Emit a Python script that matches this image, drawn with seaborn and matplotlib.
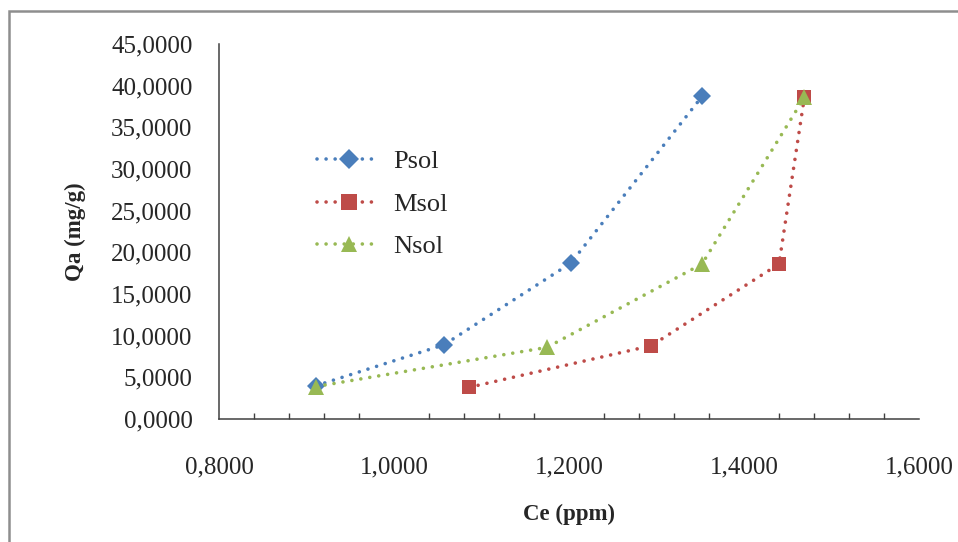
import numpy as np
import pandas as pd
import matplotlib
matplotlib.use("Agg")
import matplotlib.pyplot as plt
import seaborn as sns
from matplotlib.patches import Rectangle
from matplotlib.lines import Line2D
from matplotlib.ticker import FuncFormatter, MultipleLocator

# ---- data ----
series_names = ["Psol", "Msol", "Nsol"]
psol_x = [0.911, 1.057, 1.202, 1.352]
psol_y = [4.0, 8.9, 18.7, 38.7]
msol_x = [1.086, 1.294, 1.440, 1.469]
msol_y = [3.8, 8.8, 18.6, 38.6]
nsol_x = [0.911, 1.175, 1.352, 1.469]
nsol_y = [3.9, 8.6, 18.6, 38.6]
x_ticks = [0.8, 1.0, 1.2, 1.4, 1.6]
y_ticks = [0, 5, 10, 15, 20, 25, 30, 35, 40, 45]

colors = {"Psol": "#4A7EBB", "Msol": "#BE4B48", "Nsol": "#98B954"}
markers = {"Psol": "D", "Msol": "s", "Nsol": "^"}
msizes = {"Psol": 9.5, "Msol": 10.5, "Nsol": 11}

df = pd.concat([
    pd.DataFrame({"x": psol_x, "y": psol_y, "series": "Psol"}),
    pd.DataFrame({"x": msol_x, "y": msol_y, "series": "Msol"}),
    pd.DataFrame({"x": nsol_x, "y": nsol_y, "series": "Nsol"}),
], ignore_index=True)

sns.set_style("white")
plt.rcParams["font.family"] = ["Liberation Serif", "DejaVu Serif"]

W, H = 958, 542
fig = plt.figure(figsize=(W / 100, H / 100), dpi=100)
ax = fig.add_axes([219 / W, 1 - 419 / H, 700 / W, 375 / H])

# outer frame (left & top visible)
fig.add_artist(Rectangle((9 / W, -0.1), 1.2, 1 - 11 / H + 0.1, transform=fig.transFigure,
                         fill=False, edgecolor="#8E8E8E", linewidth=1.8, clip_on=False))

dot = (0, (0.01, 2.5))

for name in series_names:
    sub = df[df["series"] == name]
    sns.lineplot(data=sub, x="x", y="y", sort=False, estimator=None, ax=ax,
                 color=colors[name], linewidth=2.6, linestyle=dot,
                 dash_capstyle="round", marker=markers[name],
                 markersize=msizes[name], markeredgewidth=0, legend=False)

ax.set_xlim(0.8, 1.6)
ax.set_ylim(0, 45)
ax.set_xticks(x_ticks)
ax.set_yticks(y_ticks)
ax.xaxis.set_minor_locator(MultipleLocator(0.04))
fmt = FuncFormatter(lambda v, p: f"{v:.4f}".replace(".", ","))
ax.xaxis.set_major_formatter(fmt)
ax.yaxis.set_major_formatter(fmt)

for s in ["top", "right"]:
    ax.spines[s].set_visible(False)
for s in ["left", "bottom"]:
    ax.spines[s].set_color("#404040")
    ax.spines[s].set_linewidth(1.1)

ax.tick_params(axis="x", which="major", direction="in", length=5, width=1.1,
               color="#404040", pad=27, labelsize=18)
ax.tick_params(axis="x", which="minor", direction="in", length=4, width=1.0,
               color="#404040", bottom=True)
ax.tick_params(axis="y", which="major", direction="out", length=4, width=1.1,
               color="#404040", pad=15, labelsize=18)

ax.set_xlabel("Ce (ppm)", fontsize=16.5, fontweight="bold", labelpad=18)
ax.set_ylabel("Qa (mg/g)", fontsize=16.5, fontweight="bold", labelpad=18)
ax.grid(False)

leg_sizes = {"Psol": 10, "Msol": 11, "Nsol": 11.5}
handles = [Line2D([], [], color=colors[n], linestyle=dot, linewidth=2.6,
                  dash_capstyle="round", marker=markers[n], markersize=leg_sizes[n],
                  markeredgewidth=0) for n in series_names]
fig.legend(handles, series_names, loc="upper left",
           bbox_to_anchor=(317 / W, 1 - 150 / H), bbox_transform=fig.transFigure,
           frameon=False, fontsize=19, handlelength=2.4, handletextpad=0.5,
           labelspacing=0.72, borderpad=0, borderaxespad=0)

fig.savefig("out.png", dpi=100)
